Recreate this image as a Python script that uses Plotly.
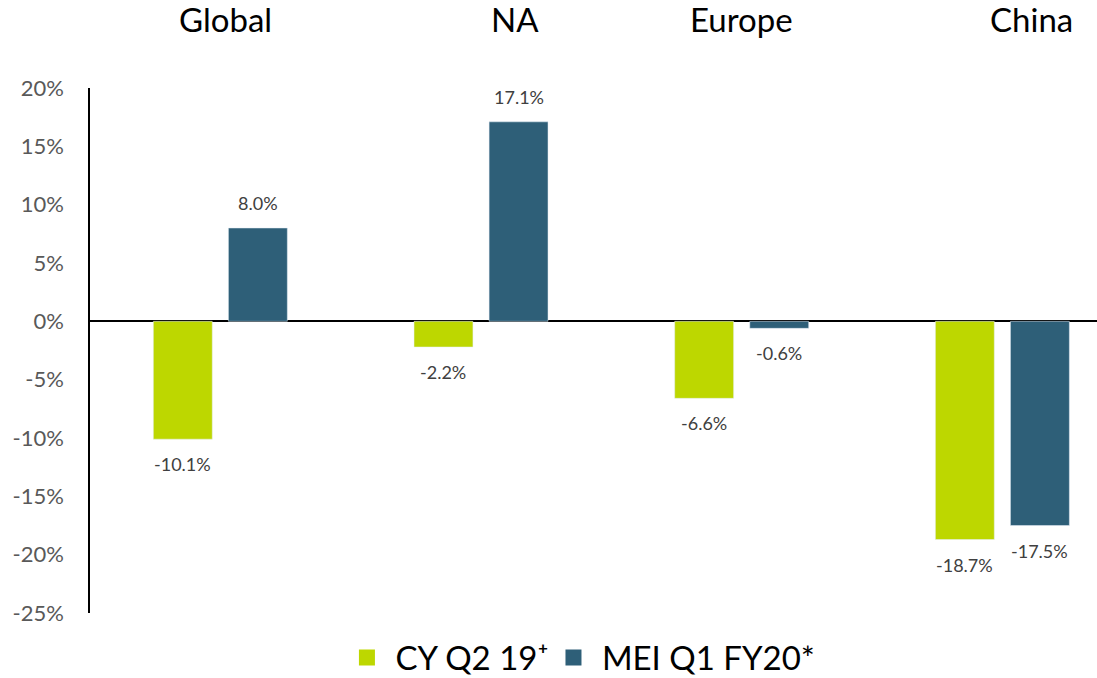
import plotly.graph_objects as go

regions = ["Global", "NA", "Europe", "China"]
cy_q2_19 = [-10.1, -2.2, -6.6, -18.7]
mei_q1_fy20 = [8.0, 17.1, -0.6, -17.5]
y_ticks = [20, 15, 10, 5, 0, -5, -10, -15, -20, -25]
y_tick_labels = [f"{v}%" for v in y_ticks]
series_names = ["CY Q2 19⁺", "MEI Q1 FY20*"]

GREEN = "#BDD700"
BLUE = "#2E5F78"
FONT = "Lato, 'Open Sans', sans-serif"
LABEL_COLOR = "#404040"
NBSP = "\u00a0"

x_idx = list(range(len(regions)))
bar_w = 0.226
offsets = [-0.257, 0.031]
colors = [GREEN, BLUE]

fig = go.Figure()
for vals, name, col, off in zip([cy_q2_19, mei_q1_fy20], series_names, colors, offsets):
    fig.add_trace(go.Bar(
        x=x_idx, y=vals, name=name, marker_color=col,
        width=bar_w, offset=off, showlegend=False,
    ))
    # value labels just beyond the bar end
    for i, v in enumerate(vals):
        fig.add_annotation(
            x=i + off + bar_w / 2, y=v, xref="x", yref="y",
            text=f"{v:.1f}%", showarrow=False,
            yshift=25 if v >= 0 else -25,
            font=dict(size=18, color=LABEL_COLOR, family=FONT),
        )
    # square legend swatch
    fig.add_trace(go.Scatter(
        x=[None], y=[None], mode="markers", name=NBSP + name,
        marker=dict(symbol="square", size=20, color=col),
    ))

# region headings above each group
title_shift = [0.02, 0.13, 0.0, 0.11]
for i, (name, s) in enumerate(zip(regions, title_shift)):
    fig.add_annotation(x=i + s, y=1.131, xref="x", yref="paper",
                       yanchor="middle", text=name, showarrow=False,
                       font=dict(size=33, color="#000000", family=FONT))

fig.update_layout(
    width=1097, height=678,
    margin=dict(l=90, r=0, t=88, b=65, autoexpand=False),
    paper_bgcolor="white", plot_bgcolor="white",
    font=dict(family=FONT),
    showlegend=True,
    legend=dict(orientation="h", x=0.49, xanchor="center", y=-0.085,
                yanchor="middle", font=dict(size=33, color="#000000"),
                itemwidth=30, traceorder="normal"),
    xaxis=dict(range=[-0.5, 3.363], showticklabels=False, showgrid=False,
               zeroline=False, showline=False, fixedrange=True),
    yaxis=dict(range=[-25, 20], tickvals=y_ticks, ticktext=y_tick_labels,
               tickfont=dict(size=22, color="#595959"),
               showgrid=False, zeroline=True, zerolinecolor="#000000",
               zerolinewidth=1.5, showline=True, linecolor="#000000",
               linewidth=1.5, ticks="", ticklabelstandoff=20),
)

fig.write_html("out.html")
